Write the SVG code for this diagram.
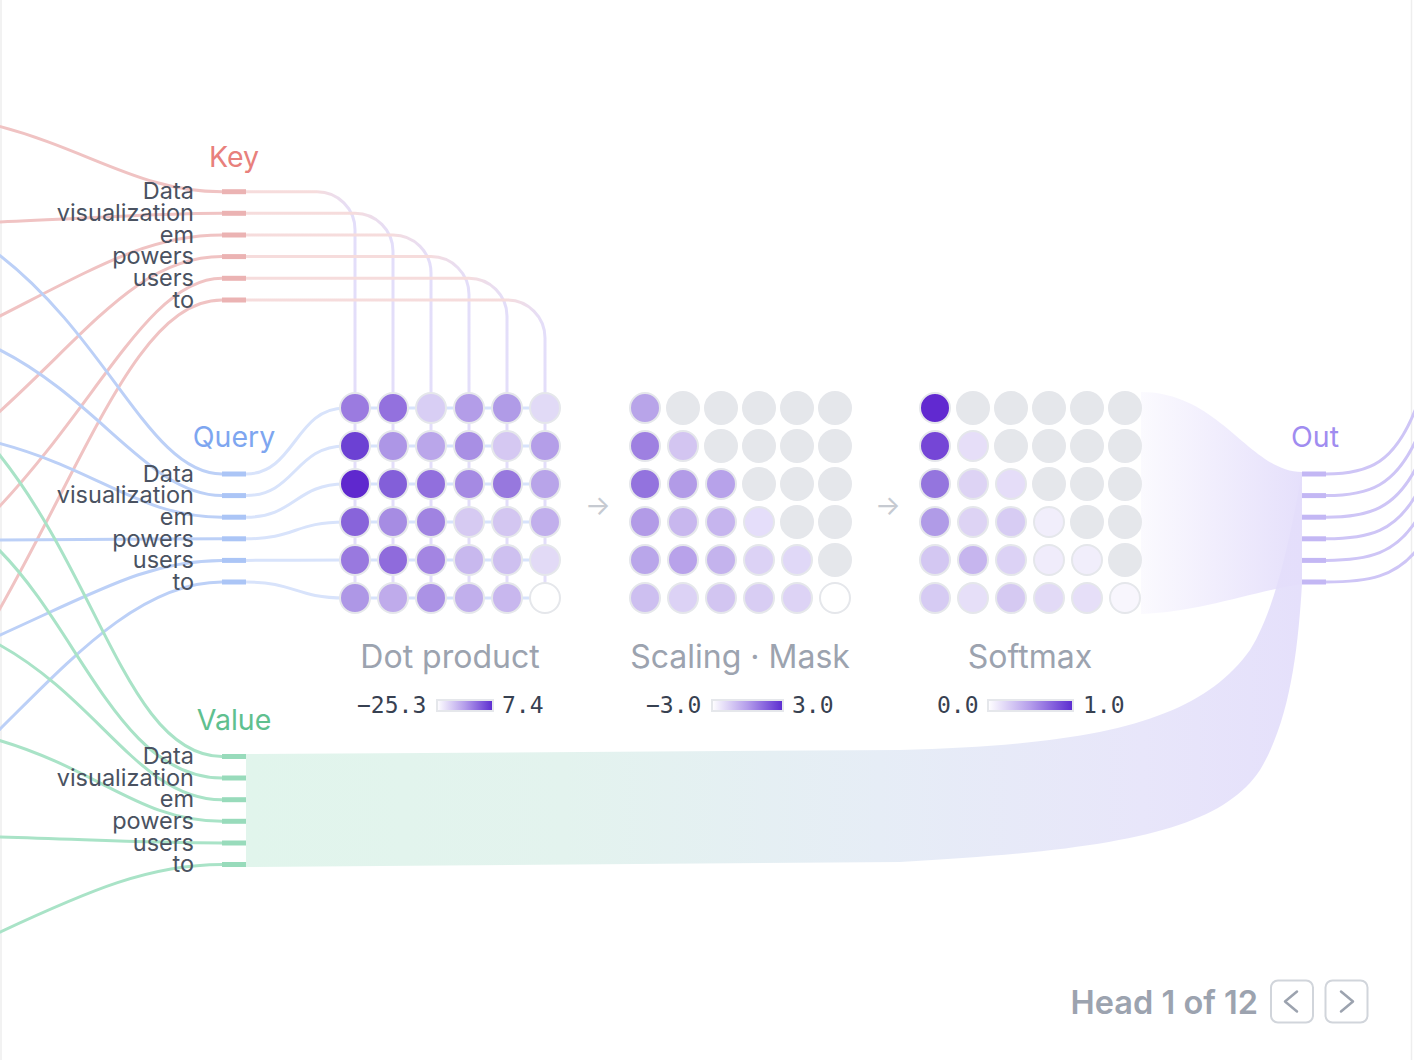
<svg xmlns="http://www.w3.org/2000/svg" width="1414" height="1060" viewBox="0 0 1414 1060">
<style>
.lbl{font-family:Inter,"Liberation Sans",sans-serif;font-size:23.5px;fill:#4a5261;text-anchor:end}
.grp{font-family:Inter,"Liberation Sans",sans-serif;font-size:28.5px;text-anchor:middle}
.ttl{font-family:Inter,"Liberation Sans",sans-serif;font-size:32px;fill:#9ca3af;text-anchor:middle}
.num{font-family:"DejaVu Sans Mono","Liberation Mono",monospace;font-size:23px;fill:#374151}
.arr{font-family:Inter,"DejaVu Sans",sans-serif;font-size:27px;fill:#c6cad1;text-anchor:middle}
.ln{fill:none;stroke-width:3}
.seg{fill:none;stroke-width:5}
.ki{stroke:#f0c3c3}.ks{stroke:#ebb3b3}
.qi{stroke:#bcd0f7}.qs{stroke:#abc5f6}.qo{stroke:#d8e3fb}
.vi{stroke:#a9e3c7}.vs{stroke:#98dbbb}
.oi{stroke:#cec5f6}.os{stroke:#c3b7f4}
.c circle{stroke:#e5e7eb;stroke-width:2}
.m{fill:#e5e7eb}
.bar{stroke:#e5e7eb;stroke-width:2;fill:url(#bar)}
.btn{fill:#fff;stroke:#d1d5db;stroke-width:2}
.chev{fill:none;stroke:#9ca3af;stroke-width:2.5;stroke-linecap:round;stroke-linejoin:round}
</style>
<defs>
<linearGradient id="bar" x1="0" y1="0" x2="1" y2="0"><stop offset="0" stop-color="#ffffff"/><stop offset="0.5" stop-color="#b49deb"/><stop offset="1" stop-color="#5b2bd0"/></linearGradient>
<linearGradient id="band" gradientUnits="userSpaceOnUse" x1="246" y1="0" x2="1302" y2="0"><stop offset="0" stop-color="#e1f5ec"/><stop offset="0.3" stop-color="#e3f3ee"/><stop offset="0.6" stop-color="#e6edf6"/><stop offset="0.85" stop-color="#e8e6fa"/><stop offset="1" stop-color="#e5e0fb"/></linearGradient>
<linearGradient id="fun" gradientUnits="userSpaceOnUse" x1="1141" y1="0" x2="1302" y2="0"><stop offset="0" stop-color="#e4defb" stop-opacity="0.15"/><stop offset="1" stop-color="#e4defb" stop-opacity="0.95"/></linearGradient>
<linearGradient id="kg0" gradientUnits="userSpaceOnUse" x1="315" y1="0" x2="355" y2="0"><stop offset="0" stop-color="#f6dcdc"/><stop offset="1" stop-color="#e3defa"/></linearGradient>
<linearGradient id="kg1" gradientUnits="userSpaceOnUse" x1="353" y1="0" x2="393" y2="0"><stop offset="0" stop-color="#f6dcdc"/><stop offset="1" stop-color="#e3defa"/></linearGradient>
<linearGradient id="kg2" gradientUnits="userSpaceOnUse" x1="391" y1="0" x2="431" y2="0"><stop offset="0" stop-color="#f6dcdc"/><stop offset="1" stop-color="#e3defa"/></linearGradient>
<linearGradient id="kg3" gradientUnits="userSpaceOnUse" x1="429" y1="0" x2="469" y2="0"><stop offset="0" stop-color="#f6dcdc"/><stop offset="1" stop-color="#e3defa"/></linearGradient>
<linearGradient id="kg4" gradientUnits="userSpaceOnUse" x1="467" y1="0" x2="507" y2="0"><stop offset="0" stop-color="#f6dcdc"/><stop offset="1" stop-color="#e3defa"/></linearGradient>
<linearGradient id="kg5" gradientUnits="userSpaceOnUse" x1="505" y1="0" x2="545" y2="0"><stop offset="0" stop-color="#f6dcdc"/><stop offset="1" stop-color="#e3defa"/></linearGradient>
</defs>
<rect x="0" y="0" width="1414" height="1060" fill="#ffffff"/>
<line x1="1" y1="0" x2="1" y2="1060" stroke="#eeeeee" stroke-width="1.5"/>
<line x1="1411.5" y1="0" x2="1411.5" y2="1060" stroke="#eeeeee" stroke-width="1.5"/>

<g id="connectors">
  <path d="M246,754 L900,750 C1100,745 1200,720 1250,650 C1275,610 1290,540 1302,472 L1302,584 C1298,650 1290,720 1260,770 C1220,830 1120,850 900,862 L246,867 Z" fill="url(#band)"/>
  <path d="M1141,392 C1220,392 1250,472 1302,472 L1302,584 C1250,592 1200,612 1141,614 Z" fill="url(#fun)"/>
  <g class="ln ki">
    <path d="M-2,126 C90,150 140,191.7 222,191.7"/>
    <path d="M-2,222 C80,219 150,213.3 222,213.3"/>
    <path d="M-2,317 C100,265 150,235 222,235"/>
    <path d="M-2,413 C90,330 140,256.6 222,256.6"/>
    <path d="M-2,508 C100,400 150,278.3 222,278.3"/>
    <path d="M-2,612 C90,450 140,300 222,300"/>
  </g>
  <g class="ln qi">
    <path d="M-2,254 C110,340 150,474 222,474"/>
    <path d="M-2,349 C100,400 150,495.6 222,495.6"/>
    <path d="M-2,443 C100,470 140,517.2 222,517.2"/>
    <path d="M-2,540 C100,540 150,538.8 222,538.8"/>
    <path d="M-2,636 C100,590 150,560.4 222,560.4"/>
    <path d="M-2,731 C70,660 140,582 222,582"/>
  </g>
  <g class="ln vi">
    <path d="M-2,453 C100,580 130,756.5 222,756.5"/>
    <path d="M-2,549 C80,630 120,778 222,778"/>
    <path d="M-2,644 C100,700 140,799.7 222,799.7"/>
    <path d="M-2,740 C100,770 140,821.3 222,821.3"/>
    <path d="M-2,837 C100,840 150,843 222,843"/>
    <path d="M-2,933 C90,890 150,864.5 222,864.5"/>
  </g>
  <g class="ln">
    <path stroke="url(#kg0)" d="M246,191.7 H317 A38,38 0 0 1 355,229.7 V598"/>
    <path stroke="url(#kg1)" d="M246,213.3 H355 A38,38 0 0 1 393,251.3 V598"/>
    <path stroke="url(#kg2)" d="M246,235 H393 A38,38 0 0 1 431,273 V598"/>
    <path stroke="url(#kg3)" d="M246,256.6 H431 A38,38 0 0 1 469,294.6 V598"/>
    <path stroke="url(#kg4)" d="M246,278.3 H469 A38,38 0 0 1 507,316.3 V598"/>
    <path stroke="url(#kg5)" d="M246,300 H507 A38,38 0 0 1 545,338 V598"/>
  </g>
  <g class="ln qo">
    <path d="M246,474 C295,474 295,408 345,408 H545"/>
    <path d="M246,495.6 C295,495.6 295,446 345,446 H545"/>
    <path d="M246,517.2 C295,517.2 295,484 345,484 H545"/>
    <path d="M246,538.8 C295,538.8 295,522 345,522 H545"/>
    <path d="M246,560.4 C295,560.4 295,560 345,560 H545"/>
    <path d="M246,582 C295,582 295,598 345,598 H545"/>
  </g>
  <g class="ln oi">
    <path d="M1326,474 C1370,474 1395,462 1416,408"/>
    <path d="M1326,495.6 C1370,495.6 1395,485 1416,440"/>
    <path d="M1326,517.2 C1370,517.2 1395,508 1416,468"/>
    <path d="M1326,538.8 C1370,538.8 1395,531 1416,495"/>
    <path d="M1326,560.4 C1370,560.4 1395,553 1416,521"/>
    <path d="M1326,582 C1370,582 1395,576 1416,551"/>
  </g>
</g>

<g id="key">
  <text class="grp" x="234" y="167" fill="#e8807c">Key</text>
  <g class="seg ks">
    <path d="M222,191.7H246"/><path d="M222,213.3H246"/><path d="M222,235H246"/><path d="M222,256.6H246"/><path d="M222,278.3H246"/><path d="M222,300H246"/>
  </g>
  <text class="lbl" x="194" y="199.4">Data</text>
  <text class="lbl" x="194" y="221">visualization</text>
  <text class="lbl" x="194" y="242.7">em</text>
  <text class="lbl" x="194" y="264.3">powers</text>
  <text class="lbl" x="194" y="286">users</text>
  <text class="lbl" x="194" y="307.7">to</text>
</g>

<g id="query">
  <text class="grp" x="234" y="447" fill="#7ea6f0">Query</text>
  <g class="seg qs">
    <path d="M222,474H246"/><path d="M222,495.6H246"/><path d="M222,517.2H246"/><path d="M222,538.8H246"/><path d="M222,560.4H246"/><path d="M222,582H246"/>
  </g>
  <text class="lbl" x="194" y="481.7">Data</text>
  <text class="lbl" x="194" y="503.3">visualization</text>
  <text class="lbl" x="194" y="524.9">em</text>
  <text class="lbl" x="194" y="546.5">powers</text>
  <text class="lbl" x="194" y="568.1">users</text>
  <text class="lbl" x="194" y="589.7">to</text>
</g>

<g id="value">
  <text class="grp" x="234" y="730" fill="#5fc08f">Value</text>
  <g class="seg vs">
    <path d="M222,756.5H246"/><path d="M222,778H246"/><path d="M222,799.7H246"/><path d="M222,821.3H246"/><path d="M222,843H246"/><path d="M222,864.5H246"/>
  </g>
  <text class="lbl" x="194" y="764.2">Data</text>
  <text class="lbl" x="194" y="785.7">visualization</text>
  <text class="lbl" x="194" y="807.4">em</text>
  <text class="lbl" x="194" y="829">powers</text>
  <text class="lbl" x="194" y="850.7">users</text>
  <text class="lbl" x="194" y="872.2">to</text>
</g>

<g id="out">
  <text class="grp" x="1315" y="447" fill="#a08cf0">Out</text>
  <g class="seg os">
    <path d="M1302,474H1326"/><path d="M1302,495.6H1326"/><path d="M1302,517.2H1326"/><path d="M1302,538.8H1326"/><path d="M1302,560.4H1326"/><path d="M1302,582H1326"/>
  </g>
</g>

<g id="dot-product" class="c">
  <circle cx="355" cy="408" r="15" fill="#9b7be0"/><circle cx="393" cy="408" r="15" fill="#9371de"/><circle cx="431" cy="408" r="15" fill="#d8cef4"/><circle cx="469" cy="408" r="15" fill="#b39de8"/><circle cx="507" cy="408" r="15" fill="#b09be7"/><circle cx="545" cy="408" r="15" fill="#e1daf6"/>
  <circle cx="355" cy="446" r="15" fill="#6c41d3"/><circle cx="393" cy="446" r="15" fill="#ad96e6"/><circle cx="431" cy="446" r="15" fill="#baa6ea"/><circle cx="469" cy="446" r="15" fill="#a88fe4"/><circle cx="507" cy="446" r="15" fill="#d5c8f2"/><circle cx="545" cy="446" r="15" fill="#b49ee8"/>
  <circle cx="355" cy="484" r="15" fill="#5f28ce"/><circle cx="393" cy="484" r="15" fill="#835fd9"/><circle cx="431" cy="484" r="15" fill="#916fdd"/><circle cx="469" cy="484" r="15" fill="#a58ae3"/><circle cx="507" cy="484" r="15" fill="#9778de"/><circle cx="545" cy="484" r="15" fill="#b8a4e9"/>
  <circle cx="355" cy="522" r="15" fill="#8864da"/><circle cx="393" cy="522" r="15" fill="#a68ce3"/><circle cx="431" cy="522" r="15" fill="#a083e1"/><circle cx="469" cy="522" r="15" fill="#d6caf2"/><circle cx="507" cy="522" r="15" fill="#d3c6f1"/><circle cx="545" cy="522" r="15" fill="#c1afec"/>
  <circle cx="355" cy="560" r="15" fill="#9979df"/><circle cx="393" cy="560" r="15" fill="#8f6bdc"/><circle cx="431" cy="560" r="15" fill="#a385e2"/><circle cx="469" cy="560" r="15" fill="#c8b8ee"/><circle cx="507" cy="560" r="15" fill="#cec0f0"/><circle cx="545" cy="560" r="15" fill="#e2daf6"/>
  <circle cx="355" cy="598" r="15" fill="#ae97e6"/><circle cx="393" cy="598" r="15" fill="#bfabeb"/><circle cx="431" cy="598" r="15" fill="#ab92e5"/><circle cx="469" cy="598" r="15" fill="#c1afec"/><circle cx="507" cy="598" r="15" fill="#c8b7ee"/><circle cx="545" cy="598" r="15" fill="#ffffff"/>
  <text class="ttl" x="450" y="668">Dot product</text>
  <text class="num" x="357" y="713">−25.3</text>
  <rect class="bar" x="437" y="700" width="56" height="11"/>
  <text class="num" x="502" y="713">7.4</text>
</g>

<text class="arr" x="598" y="515">→</text>

<g id="scaling-mask" class="c">
  <circle cx="645" cy="408" r="15" fill="#b8a4e9"/><circle class="m" cx="683" cy="408" r="16" stroke="none"/><circle class="m" cx="721" cy="408" r="16" stroke="none"/><circle class="m" cx="759" cy="408" r="16" stroke="none"/><circle class="m" cx="797" cy="408" r="16" stroke="none"/><circle class="m" cx="835" cy="408" r="16" stroke="none"/>
  <circle cx="645" cy="446" r="15" fill="#9e80e1"/><circle cx="683" cy="446" r="15" fill="#d3c5f1"/><circle class="m" cx="721" cy="446" r="16" stroke="none"/><circle class="m" cx="759" cy="446" r="16" stroke="none"/><circle class="m" cx="797" cy="446" r="16" stroke="none"/><circle class="m" cx="835" cy="446" r="16" stroke="none"/>
  <circle cx="645" cy="484" r="15" fill="#9373de"/><circle cx="683" cy="484" r="15" fill="#b29be7"/><circle cx="721" cy="484" r="15" fill="#b7a2ea"/><circle class="m" cx="759" cy="484" r="16" stroke="none"/><circle class="m" cx="797" cy="484" r="16" stroke="none"/><circle class="m" cx="835" cy="484" r="16" stroke="none"/>
  <circle cx="645" cy="522" r="15" fill="#b29be7"/><circle cx="683" cy="522" r="15" fill="#c8b7ee"/><circle cx="721" cy="522" r="15" fill="#c6b5ee"/><circle cx="759" cy="522" r="15" fill="#e5defa"/><circle class="m" cx="797" cy="522" r="16" stroke="none"/><circle class="m" cx="835" cy="522" r="16" stroke="none"/>
  <circle cx="645" cy="560" r="15" fill="#b9a6ea"/><circle cx="683" cy="560" r="15" fill="#b8a2ea"/><circle cx="721" cy="560" r="15" fill="#c4b3ed"/><circle cx="759" cy="560" r="15" fill="#dcd2f5"/><circle cx="797" cy="560" r="15" fill="#e0d8f7"/><circle class="m" cx="835" cy="560" r="16" stroke="none"/>
  <circle cx="645" cy="598" r="15" fill="#cdbff0"/><circle cx="683" cy="598" r="15" fill="#dcd2f5"/><circle cx="721" cy="598" r="15" fill="#d2c5f1"/><circle cx="759" cy="598" r="15" fill="#d8cdf3"/><circle cx="797" cy="598" r="15" fill="#ddd3f5"/><circle cx="835" cy="598" r="15" fill="#ffffff"/>
  <text class="ttl" x="740" y="668">Scaling · Mask</text>
  <text class="num" x="646" y="713">−3.0</text>
  <rect class="bar" x="712" y="700" width="71" height="11"/>
  <text class="num" x="792" y="713">3.0</text>
</g>

<text class="arr" x="888" y="515">→</text>

<g id="softmax" class="c">
  <circle cx="935" cy="408" r="15" fill="#6129d0"/><circle class="m" cx="973" cy="408" r="16" stroke="none"/><circle class="m" cx="1011" cy="408" r="16" stroke="none"/><circle class="m" cx="1049" cy="408" r="16" stroke="none"/><circle class="m" cx="1087" cy="408" r="16" stroke="none"/><circle class="m" cx="1125" cy="408" r="16" stroke="none"/>
  <circle cx="935" cy="446" r="15" fill="#7546d6"/><circle cx="973" cy="446" r="15" fill="#e6def8"/><circle class="m" cx="1011" cy="446" r="16" stroke="none"/><circle class="m" cx="1049" cy="446" r="16" stroke="none"/><circle class="m" cx="1087" cy="446" r="16" stroke="none"/><circle class="m" cx="1125" cy="446" r="16" stroke="none"/>
  <circle cx="935" cy="484" r="15" fill="#9475de"/><circle cx="973" cy="484" r="15" fill="#ddd3f4"/><circle cx="1011" cy="484" r="15" fill="#e5ddf8"/><circle class="m" cx="1049" cy="484" r="16" stroke="none"/><circle class="m" cx="1087" cy="484" r="16" stroke="none"/><circle class="m" cx="1125" cy="484" r="16" stroke="none"/>
  <circle cx="935" cy="522" r="15" fill="#b09be7"/><circle cx="973" cy="522" r="15" fill="#ddd3f4"/><circle cx="1011" cy="522" r="15" fill="#d7ccf3"/><circle cx="1049" cy="522" r="15" fill="#f1eefb"/><circle class="m" cx="1087" cy="522" r="16" stroke="none"/><circle class="m" cx="1125" cy="522" r="16" stroke="none"/>
  <circle cx="935" cy="560" r="15" fill="#d3c7f2"/><circle cx="973" cy="560" r="15" fill="#c6b5ee"/><circle cx="1011" cy="560" r="15" fill="#dcd2f5"/><circle cx="1049" cy="560" r="15" fill="#f0ecfb"/><circle cx="1087" cy="560" r="15" fill="#f1eefb"/><circle class="m" cx="1125" cy="560" r="16" stroke="none"/>
  <circle cx="935" cy="598" r="15" fill="#d6cbf3"/><circle cx="973" cy="598" r="15" fill="#e6dff8"/><circle cx="1011" cy="598" r="15" fill="#d5c9f2"/><circle cx="1049" cy="598" r="15" fill="#e2daf6"/><circle cx="1087" cy="598" r="15" fill="#e6dff8"/><circle cx="1125" cy="598" r="15" fill="#f8f6fd"/>
  <text class="ttl" x="1030" y="668">Softmax</text>
  <text class="num" x="937" y="713">0.0</text>
  <rect class="bar" x="988" y="700" width="85" height="11"/>
  <text class="num" x="1083" y="713">1.0</text>
</g>

<g id="head-nav">
  <text x="1258" y="1014" font-family="Inter,'Liberation Sans',sans-serif" font-size="32.5" font-weight="600" fill="#9ca3af" text-anchor="end">Head 1 of 12</text>
  <rect class="btn" x="1271" y="980.5" width="42" height="42" rx="7"/>
  <polyline class="chev" points="1297,991.5 1285,1001.5 1297,1011.5"/>
  <rect class="btn" x="1325.5" y="980.5" width="42" height="42" rx="7"/>
  <polyline class="chev" points="1341,991.5 1353,1001.5 1341,1011.5"/>
</g>
</svg>
